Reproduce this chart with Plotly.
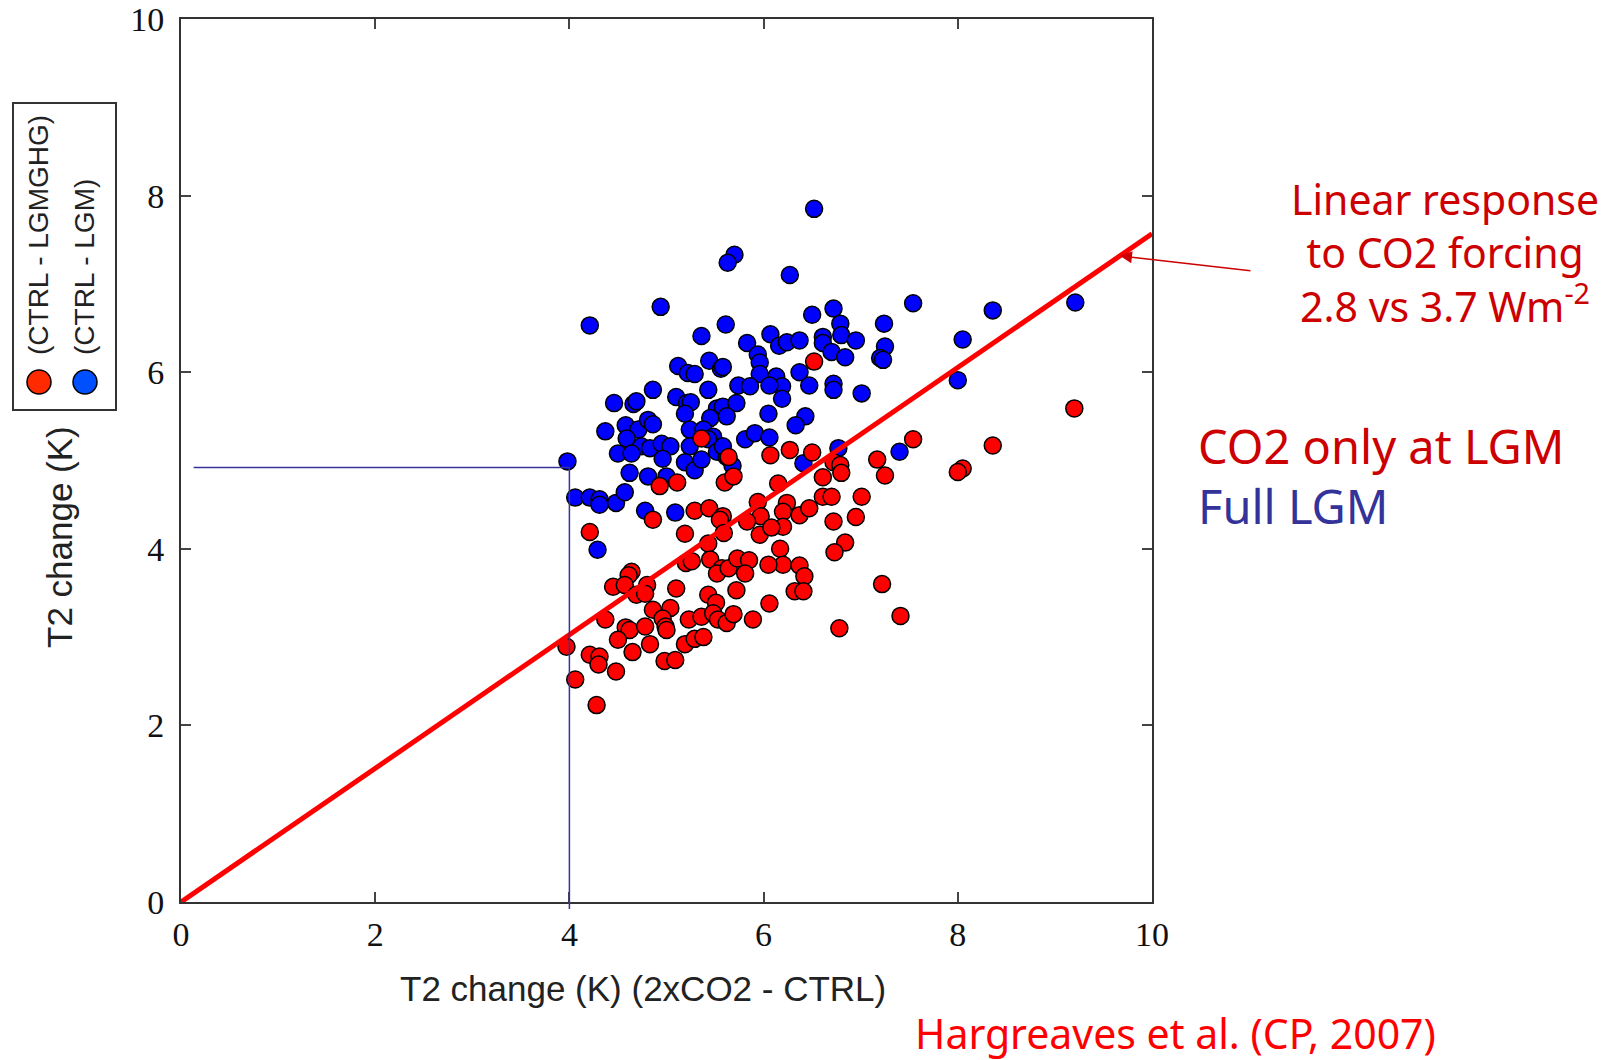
import plotly.graph_objects as go

# ---------------- data ----------------
blue_x = [6.52, 5.70, 5.63, 6.27, 4.94, 4.21, 5.61, 6.50, 5.36, 6.07, 5.83, 6.16, 6.24, 6.37, 5.94, 5.96,
          5.96, 6.37, 6.47, 5.44, 5.56, 5.58, 5.12, 5.22, 5.29, 6.13, 6.19, 6.06, 5.74, 5.86, 6.19, 5.43,
          4.86, 5.10, 5.21, 5.25, 5.19, 4.46, 4.66, 4.69, 5.52, 5.58, 5.72, 5.62, 5.45, 6.05, 6.43, 6.33,
          4.58, 4.71, 4.81, 4.86, 4.37, 4.59, 5.24, 5.38, 5.48, 5.43, 5.81, 5.91, 6.06, 4.74, 4.83, 4.95,
          5.04, 5.24, 4.50, 4.64, 3.98, 5.52, 5.62, 7.54, 8.36, 9.21, 6.72, 6.79, 6.80, 6.61, 6.61, 6.70,
          6.84, 6.95, 7.24, 7.25, 7.20, 7.23, 8.05, 6.72, 6.72, 7.01, 8.00, 6.77, 7.40, 6.41, 4.62, 4.81,
          5.00, 5.19, 5.29, 5.36, 5.68, 4.06, 4.21, 4.31, 4.31, 4.48, 4.57, 4.78, 5.09, 4.29, 4.96, 5.58]
blue_y = [7.85, 7.33, 7.24, 7.10, 6.74, 6.53, 6.54, 6.65, 6.41, 6.43, 6.33, 6.30, 6.34, 6.36, 6.20, 6.11,
          5.98, 6.00, 5.85, 6.13, 6.04, 6.06, 6.07, 5.99, 5.98, 5.95, 5.84, 5.85, 5.85, 5.84, 5.70, 5.80,
          5.80, 5.72, 5.65, 5.66, 5.53, 5.65, 5.64, 5.67, 5.59, 5.61, 5.65, 5.50, 5.48, 5.53, 5.50, 5.40,
          5.40, 5.35, 5.46, 5.41, 5.33, 5.25, 5.35, 5.35, 5.27, 5.24, 5.24, 5.31, 5.26, 5.16, 5.14, 5.19,
          5.16, 5.16, 5.08, 5.08, 4.99, 5.10, 5.04, 6.78, 6.70, 6.79, 6.72, 6.55, 6.42, 6.40, 6.33, 6.23,
          6.17, 6.36, 6.55, 6.29, 6.16, 6.14, 6.37, 5.87, 5.80, 5.76, 5.91, 5.14, 5.10, 4.97, 4.86, 4.82,
          4.82, 4.98, 4.89, 5.01, 4.94, 4.58, 4.58, 4.56, 4.50, 4.52, 4.64, 4.43, 4.41, 3.99, 5.02, 5.16]

red_x = [5.36, 6.52, 5.64, 6.07, 6.27, 6.50, 9.20, 7.54, 8.36, 7.17, 8.05, 8.00, 6.72, 6.79, 6.80, 7.25,
         6.61, 6.61, 6.70, 7.01, 6.24, 6.20, 6.37, 6.47, 6.20, 6.72, 6.95, 6.84, 6.73, 6.17, 6.20, 6.37,
         6.42, 6.32, 6.41, 7.22, 7.41, 6.78, 4.93, 5.11, 5.60, 5.69, 6.15, 4.86, 4.21, 5.19, 5.29, 5.44,
         5.58, 5.55, 5.59, 5.94, 5.97, 5.83, 5.96, 6.08, 5.43, 5.20, 5.26, 5.45, 5.57, 5.52, 5.64, 5.73,
         5.85, 5.81, 5.72, 6.05, 6.06, 5.89, 4.64, 4.61, 4.45, 4.57, 4.69, 4.80, 4.78, 5.10, 5.43, 5.51,
         4.86, 5.04, 5.23, 5.36, 5.48, 5.53, 5.62, 5.69, 4.96, 4.99, 5.00, 4.37, 4.58, 4.62, 4.50, 4.78,
         5.19, 5.29, 5.38, 4.83, 4.65, 4.98, 5.09, 3.97, 4.21, 4.31, 4.30, 4.48, 4.06, 4.28]
red_y = [5.25, 6.12, 5.04, 5.06, 5.12, 5.09, 5.59, 5.24, 5.17, 5.01, 4.91, 4.87, 4.98, 4.95, 4.86, 4.83,
         4.81, 4.59, 4.59, 4.59, 4.52, 4.42, 4.38, 4.46, 4.25, 4.31, 4.36, 4.07, 3.96, 4.00, 3.82, 3.81,
         3.69, 3.52, 3.52, 3.60, 3.24, 3.10, 4.71, 4.75, 4.75, 4.82, 4.74, 4.33, 4.19, 4.17, 4.43, 4.46,
         4.37, 4.33, 4.18, 4.53, 4.37, 4.31, 4.16, 4.24, 4.06, 3.84, 3.86, 3.88, 3.78, 3.72, 3.78, 3.89,
         3.87, 3.72, 3.53, 3.82, 3.38, 3.20, 3.74, 3.70, 3.57, 3.59, 3.48, 3.59, 3.49, 3.55, 3.48, 3.39,
         3.31, 3.33, 3.20, 3.23, 3.27, 3.20, 3.16, 3.26, 3.21, 3.12, 3.08, 3.20, 3.11, 3.08, 2.97, 3.12,
         2.92, 2.98, 3.00, 2.92, 2.83, 2.73, 2.74, 2.89, 2.80, 2.78, 2.69, 2.61, 2.52, 2.23]

forcing_lgm = 2.8
forcing_2xco2 = 3.7
line_x = [0, 10]
line_y = [v * forcing_lgm / forcing_2xco2 for v in line_x]

guide_x = 4.0
guide_y = 4.92
guide_x_start = 0.13

tick_vals = [0, 2, 4, 6, 8, 10]
tick_text = ["0", "2", "4", "6", "8", "10"]

# ---------------- layout helpers ----------------
W, H = 1619, 1060
PL, PR, PT, PB = 181, 1152, 19, 902


def pxx(x):
    return (x - PL) / (PR - PL)


def pxy(y):
    return (PB - y) / (PB - PT)


fig = go.Figure()

marker_line = dict(color="black", width=1.5)
fig.add_trace(go.Scatter(x=blue_x, y=blue_y, mode="markers", name="(CTRL - LGM)",
                         marker=dict(size=17, color="#0000ff", line=marker_line)))
fig.add_trace(go.Scatter(x=red_x, y=red_y, mode="markers", name="(CTRL - LGMGHG)",
                         marker=dict(size=17, color="#ff0000", line=marker_line)))
fig.add_trace(go.Scatter(x=line_x, y=line_y, mode="lines", name="linear",
                         line=dict(color="#ff0000", width=5)))

guide_col = "#34349a"
shapes = [
    dict(type="line", xref="x", yref="y", x0=guide_x_start, x1=guide_x, y0=guide_y, y1=guide_y,
         line=dict(color=guide_col, width=1.5)),
    dict(type="line", xref="x", yref="paper", x0=guide_x, x1=guide_x, y0=-0.008, y1=guide_y / 10,
         line=dict(color=guide_col, width=1.5)),
    # legend box
    dict(type="rect", xref="paper", yref="paper", x0=pxx(13), x1=pxx(116), y0=pxy(410), y1=pxy(103),
         line=dict(color="#333333", width=2), fillcolor="white"),
]
r = 12
for cx, col in [(39, "#ff2a00"), (85, "#0050ff")]:
    cy = 382
    shapes.append(dict(type="circle", xref="paper", yref="paper",
                       x0=pxx(cx - r), x1=pxx(cx + r), y0=pxy(cy + r), y1=pxy(cy - r),
                       fillcolor=col, line=dict(color="black", width=1.5)))

sans = "Liberation Sans, Arial, sans-serif"
comic = "Comic Sans MS, Noto Sans, sans-serif"
annotations = [
    dict(text="(CTRL - LGMGHG)", textangle=-90, xref="paper", yref="paper", x=pxx(39), y=pxy(357),
         xanchor="center", yanchor="bottom", showarrow=False, font=dict(family=sans, size=28, color="#222")),
    dict(text="(CTRL - LGM)", textangle=-90, xref="paper", yref="paper", x=pxx(85), y=pxy(357),
         xanchor="center", yanchor="bottom", showarrow=False, font=dict(family=sans, size=28, color="#222")),
    dict(text="T2 change (K)", textangle=-90, xref="paper", yref="paper", x=pxx(59), y=pxy(537),
         xanchor="center", yanchor="middle", showarrow=False, font=dict(family=sans, size=35, color="#222")),
    dict(text="T2 change (K) (2xCO2 - CTRL)", xref="paper", yref="paper", x=pxx(643), y=pxy(988),
         xanchor="center", yanchor="middle", showarrow=False, font=dict(family=sans, size=35, color="#222")),
    dict(text="Linear response<br>to CO2 forcing<br>2.8 vs 3.7 Wm<sup>-2</sup>", xref="paper", yref="paper",
         x=pxx(1445), y=pxy(252), xanchor="center", yanchor="middle", align="center", showarrow=False,
         font=dict(family=comic, size=41, color="#cc0000")),
    dict(text="CO2 only at LGM", xref="paper", yref="paper", x=pxx(1196), y=pxy(446),
         xanchor="left", yanchor="middle", showarrow=False, font=dict(family=comic, size=47, color="#cc0000")),
    dict(text="Full LGM", xref="paper", yref="paper", x=pxx(1196), y=pxy(506),
         xanchor="left", yanchor="middle", showarrow=False, font=dict(family=comic, size=47, color="#333399")),
    dict(text="Hargreaves et al. (CP, 2007)", xref="paper", yref="paper", x=pxx(1175), y=pxy(1033),
         xanchor="center", yanchor="middle", showarrow=False, font=dict(family=comic, size=41, color="#ff0000")),
    dict(text="", x=9.67, y=9.67 * forcing_lgm / forcing_2xco2, xref="x", yref="y",
         ax=132, ay=15, showarrow=True, arrowhead=2, arrowsize=1.6, arrowwidth=1.5, arrowcolor="#cc0000"),
]

axis_common = dict(range=[0, 10], tickvals=tick_vals, ticktext=tick_text, ticks="inside", ticklen=10,
                   tickwidth=1.5, tickcolor="#444", showline=True, linecolor="#333", linewidth=2,
                   mirror="ticks", showgrid=False, zeroline=False, automargin=False,
                   tickfont=dict(family="Liberation Serif, DejaVu Serif, serif", size=34, color="#111"))

fig.update_layout(
    width=W, height=H,
    margin=dict(l=PL, r=W - PR, t=PT, b=H - PB, pad=0, autoexpand=False),
    paper_bgcolor="white", plot_bgcolor="white",
    showlegend=False,
    xaxis=dict(**axis_common, ticklabelstandoff=1),
    yaxis=dict(**axis_common, ticklabelstandoff=8),
    shapes=shapes,
    annotations=annotations,
)

fig.write_html("out.html")
